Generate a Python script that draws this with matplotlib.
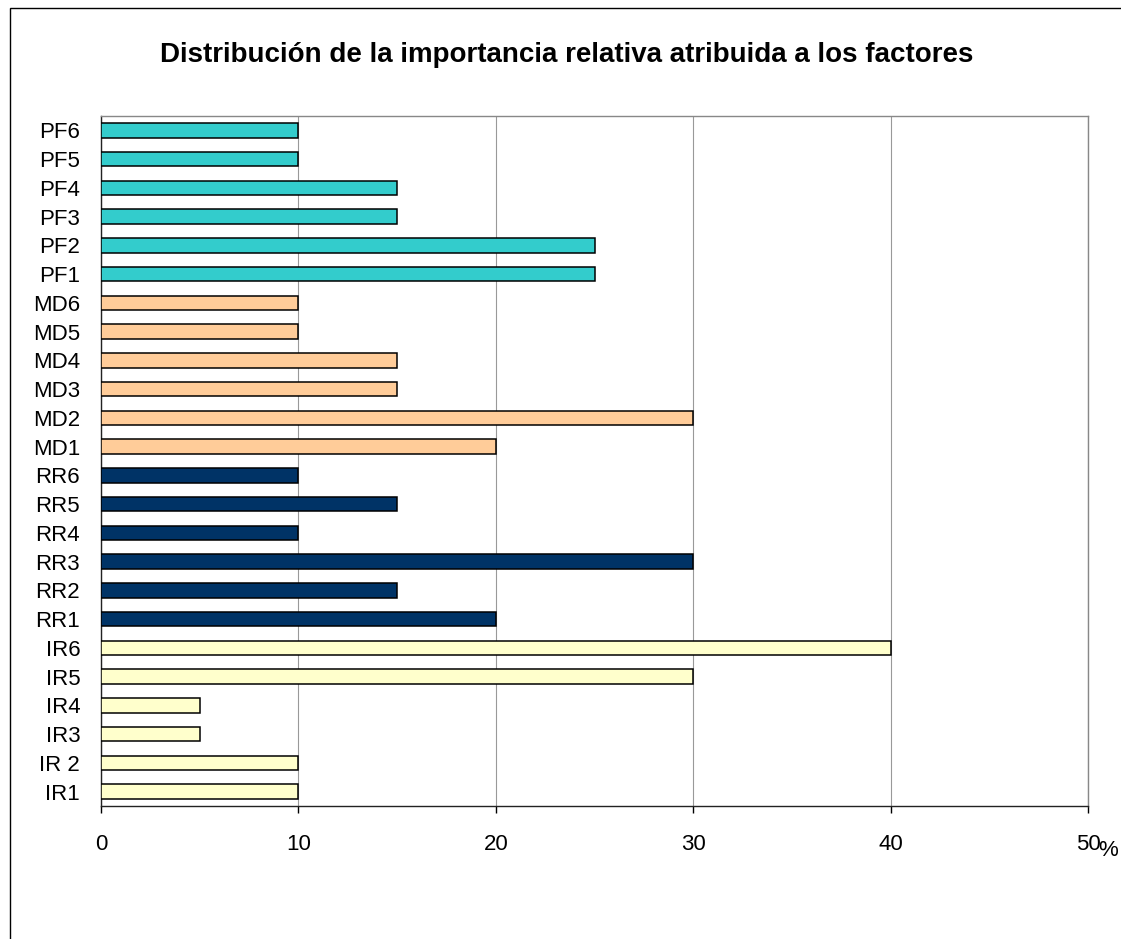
import matplotlib
matplotlib.use("Agg")
import matplotlib.pyplot as plt
from matplotlib.patches import Rectangle

plt.rcParams['font.family'] = ['Liberation Sans', 'DejaVu Sans']

categories = ["IR1", "IR 2", "IR3", "IR4", "IR5", "IR6",
              "RR1", "RR2", "RR3", "RR4", "RR5", "RR6",
              "MD1", "MD2", "MD3", "MD4", "MD5", "MD6",
              "PF1", "PF2", "PF3", "PF4", "PF5", "PF6"]
ir_values = [10, 10, 5, 5, 30, 40]
rr_values = [20, 15, 30, 10, 15, 10]
md_values = [20, 30, 15, 15, 10, 10]
pf_values = [25, 25, 15, 15, 10, 10]
group_colors = ["#FFFFCC", "#003366", "#FFCC99", "#33CCCC"]
xticks = [0, 10, 20, 30, 40, 50]

fig = plt.figure(figsize=(11.21, 9.39), dpi=100)
fig.patches.append(Rectangle((10/1121, -0.2), 1.2, 1.2 - 8/939, transform=fig.transFigure,
                             fill=False, edgecolor="black", linewidth=1.0))

ax = fig.add_axes([101/1121, 1 - 806/939, (1088 - 101)/1121, (806 - 116)/939])

values = ir_values + rr_values + md_values + pf_values
colors = []
for c, vals in zip(group_colors, [ir_values, rr_values, md_values, pf_values]):
    colors += [c] * len(vals)

ypos = list(range(len(categories)))
ax.barh(ypos, values, height=0.5, color=colors, edgecolor="black", linewidth=1.1, zorder=3)
ax.set_yticks(ypos)
ax.set_yticklabels(categories, fontsize=16)
ax.set_ylim(-0.5, len(categories) - 0.5)
ax.set_xlim(0, 50)
ax.set_xticks(xticks)
ax.set_xticklabels([str(t) for t in xticks], fontsize=16)
ax.tick_params(axis='y', length=0, pad=15)
ax.tick_params(axis='x', length=5, width=1, direction='out', pad=15)
ax.xaxis.grid(True, color="#999999", linewidth=0.8, zorder=0)
for s in ["top", "right"]:
    ax.spines[s].set_color("#888888")
for s in ["left", "bottom"]:
    ax.spines[s].set_color("#222222")
for s in ax.spines.values():
    s.set_linewidth(1.0)

fig.text(1108/1121, 1 - 851/939, "%", fontsize=16, ha="center", va="center")
fig.text(567/1121, 1 - 55/939, "Distribución de la importancia relativa atribuida a los factores",
         fontsize=20, fontweight="bold", ha="center", va="center")

fig.savefig("out.png", dpi=100)
